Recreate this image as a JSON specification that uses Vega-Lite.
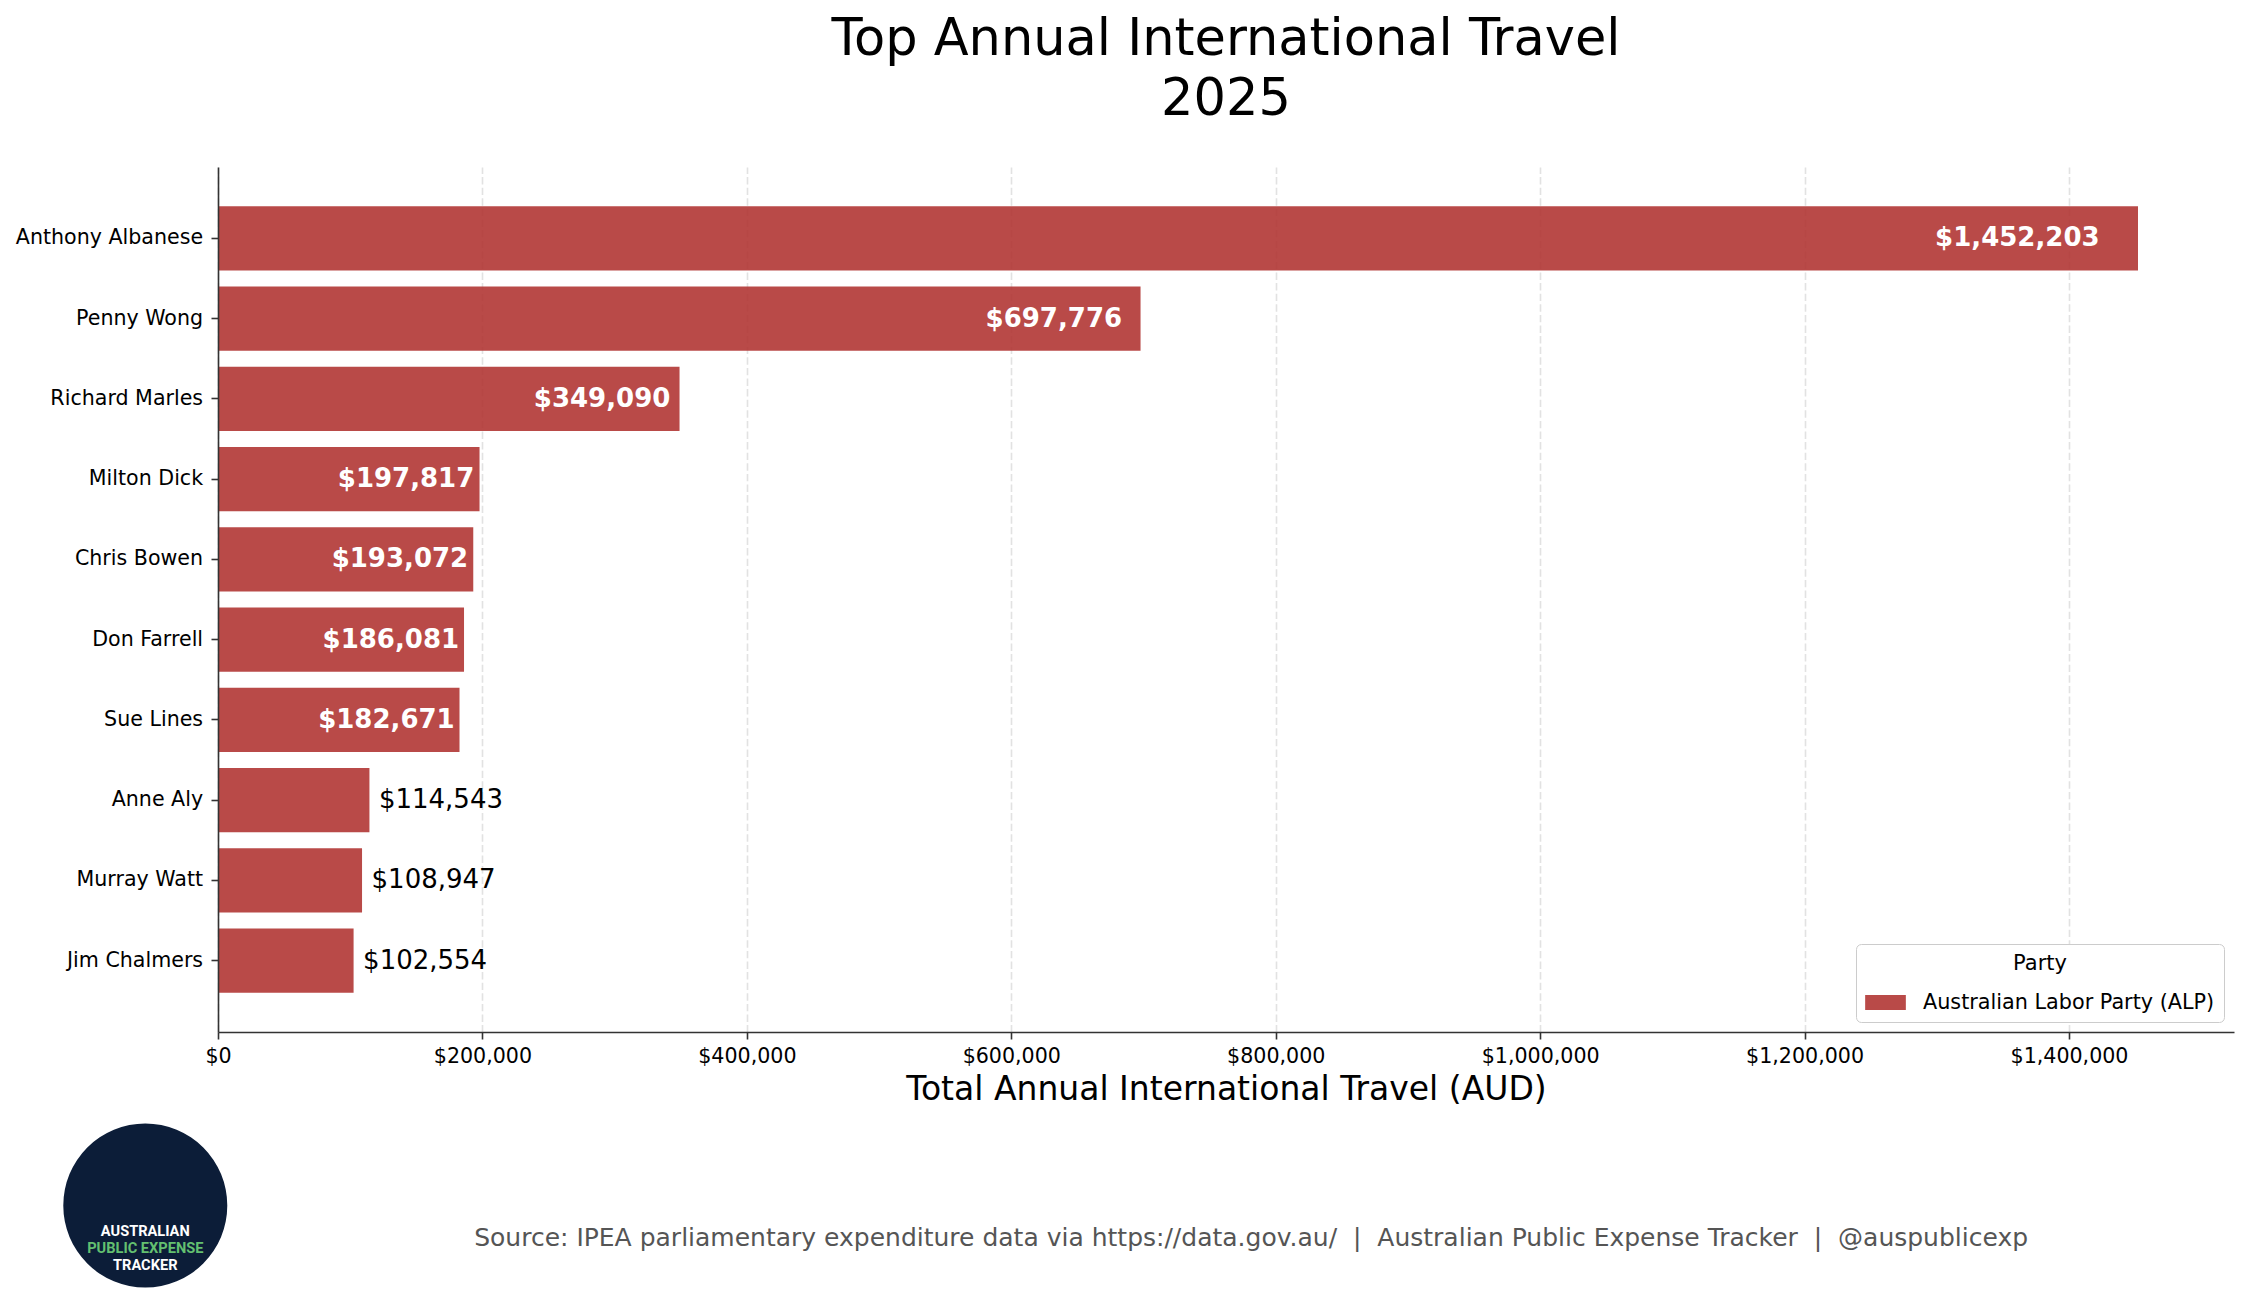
{
  "$schema": "https://vega.github.io/schema/vega-lite/v6.json",
  "background": "white",
  "padding": {"left": 15, "top": 14, "right": 10, "bottom": 10},
  "config": {"font": "DejaVu Sans", "view": {"stroke": null}},
  "spacing": 13.5,
  "resolve": {"scale": {"color": "independent", "x": "independent"}, "legend": {"color": "independent"}},
  "vconcat": [
    {
      "width": 2016,
      "height": 865,
      "title": {
        "text": ["Top Annual International Travel", "2025"],
        "fontSize": 51,
        "fontWeight": "normal",
        "color": "black",
        "lineHeight": 60,
        "anchor": "middle",
        "frame": "group",
        "offset": 41
      },
      "data": {
        "values": [
          {"name": "Anthony Albanese", "value": 1452203, "party": "Australian Labor Party (ALP)"},
          {"name": "Penny Wong", "value": 697776, "party": "Australian Labor Party (ALP)"},
          {"name": "Richard Marles", "value": 349090, "party": "Australian Labor Party (ALP)"},
          {"name": "Milton Dick", "value": 197817, "party": "Australian Labor Party (ALP)"},
          {"name": "Chris Bowen", "value": 193072, "party": "Australian Labor Party (ALP)"},
          {"name": "Don Farrell", "value": 186081, "party": "Australian Labor Party (ALP)"},
          {"name": "Sue Lines", "value": 182671, "party": "Australian Labor Party (ALP)"},
          {"name": "Anne Aly", "value": 114543, "party": "Australian Labor Party (ALP)"},
          {"name": "Murray Watt", "value": 108947, "party": "Australian Labor Party (ALP)"},
          {"name": "Jim Chalmers", "value": 102554, "party": "Australian Labor Party (ALP)"}
        ]
      },
      "encoding": {
        "y": {
          "field": "name",
          "type": "nominal",
          "sort": null,
          "scale": {"paddingInner": 0.2, "paddingOuter": 0.49},
          "axis": {
            "title": null,
            "labelFontSize": 20.6,
            "labelColor": "black",
            "labelLimit": 400,
            "tickSize": 7,
            "tickColor": "#333333",
            "tickWidth": 1.6,
            "domainColor": "#333333",
            "domainWidth": 1.6,
            "labelPadding": 8.4,
            "grid": false,
            "zindex": 1
          }
        }
      },
      "layer": [
        {
          "mark": {"type": "bar", "opacity": 0.9},
          "encoding": {
            "x": {
              "field": "value",
              "type": "quantitative",
              "scale": {"domain": [0, 1524813], "nice": false, "zero": true},
              "axis": {
                "values": [0, 200000, 400000, 600000, 800000, 1000000, 1200000, 1400000],
                "format": "$,.0f",
                "labelFontSize": 20.6,
                "labelColor": "black",
                "labelFlush": false,
                "labelOverlap": false,
                "tickSize": 7,
                "tickColor": "#333333",
                "tickWidth": 1.6,
                "domainColor": "#333333",
                "domainWidth": 1.6,
                "labelPadding": 7.8,
                "title": "Total Annual International Travel (AUD)",
                "titleFontSize": 33,
                "titleFontWeight": "normal",
                "titleColor": "black",
                "titlePadding": 6,
                "grid": true,
                "gridColor": "#e2e2e2",
                "gridDash": [7.4, 3.2],
                "gridWidth": 1.6
              }
            },
            "color": {
              "field": "party",
              "type": "nominal",
              "scale": {"range": ["#b13634"]},
              "legend": {
                "title": "Party",
                "orient": "bottom-right",
                "offset": 10,
                "padding": 9,
                "strokeColor": "#cccccc",
                "fillColor": "white",
                "cornerRadius": 5,
                "titleFontSize": 21,
                "titleFontWeight": "normal",
                "titleColor": "black",
                "titleAnchor": "middle",
                "titlePadding": 8,
                "labelFontSize": 20.75,
                "labelColor": "black",
                "labelLimit": 400,
                "labelOffset": 17,
                "symbolType": "M-1,-0.37H1V0.37H-1Z",
                "symbolSize": 1656,
                "symbolOpacity": 0.9,
                "symbolStrokeWidth": 0
              }
            }
          }
        },
        {
          "transform": [{"filter": "datum.value > 150000"}],
          "mark": {
            "type": "text",
            "align": "right",
            "baseline": "middle",
            "color": "white",
            "fontWeight": "bold",
            "fontSize": 26,
            "dx": {"expr": "-0.00002644 * datum.value"}
          },
          "encoding": {
            "x": {"field": "value", "type": "quantitative"},
            "text": {"field": "value", "type": "quantitative", "format": "$,.0f"}
          }
        },
        {
          "transform": [{"filter": "datum.value <= 150000"}],
          "mark": {
            "type": "text",
            "align": "left",
            "baseline": "middle",
            "color": "black",
            "fontSize": 26,
            "dx": 9.5
          },
          "encoding": {
            "x": {"field": "value", "type": "quantitative"},
            "text": {"field": "value", "type": "quantitative", "format": "$,.0f"}
          }
        }
      ]
    },
    {
      "width": 2016,
      "height": 170,
      "encoding": {
        "x": {"type": "quantitative", "scale": {"domain": [0, 1524813], "nice": false, "zero": false}, "axis": null}
      },
      "layer": [
        {
          "data": {"values": [{"badge": "Australian Public Expense Tracker"}]},
          "mark": {"type": "point", "shape": "circle", "filled": true, "size": 26896, "color": "#0c1d38", "opacity": 1},
          "encoding": {"x": {"datum": -55000, "type": "quantitative"}}
        },
        {
          "data": {"values": [{"t": "AUSTRALIAN"}]},
          "mark": {"type": "text", "font": "Roboto", "fontWeight": "bold", "fontSize": 14.6, "color": "white", "baseline": "alphabetic", "dy": 30},
          "encoding": {"x": {"datum": -55000, "type": "quantitative"}, "text": {"field": "t"}}
        },
        {
          "data": {"values": [{"t": "PUBLIC EXPENSE"}]},
          "mark": {"type": "text", "font": "Roboto", "fontWeight": "bold", "fontSize": 14.6, "color": "#63c070", "baseline": "alphabetic", "dy": 47},
          "encoding": {"x": {"datum": -55000, "type": "quantitative"}, "text": {"field": "t"}}
        },
        {
          "data": {"values": [{"t": "TRACKER"}]},
          "mark": {"type": "text", "font": "Roboto", "fontWeight": "bold", "fontSize": 14.6, "color": "white", "baseline": "alphabetic", "dy": 64.5},
          "encoding": {"x": {"datum": -55000, "type": "quantitative"}, "text": {"field": "t"}}
        },
        {
          "data": {"values": [{"t": "Source: IPEA parliamentary expenditure data via https://data.gov.au/ \u00a0|\u00a0 Australian Public Expense Tracker \u00a0|\u00a0 @auspublicexp"}]},
          "mark": {"type": "text", "fontSize": 25, "color": "#555555", "baseline": "alphabetic", "align": "center", "dy": 40.5},
          "encoding": {"x": {"datum": 781400, "type": "quantitative"}, "text": {"field": "t"}}
        }
      ]
    }
  ]
}
